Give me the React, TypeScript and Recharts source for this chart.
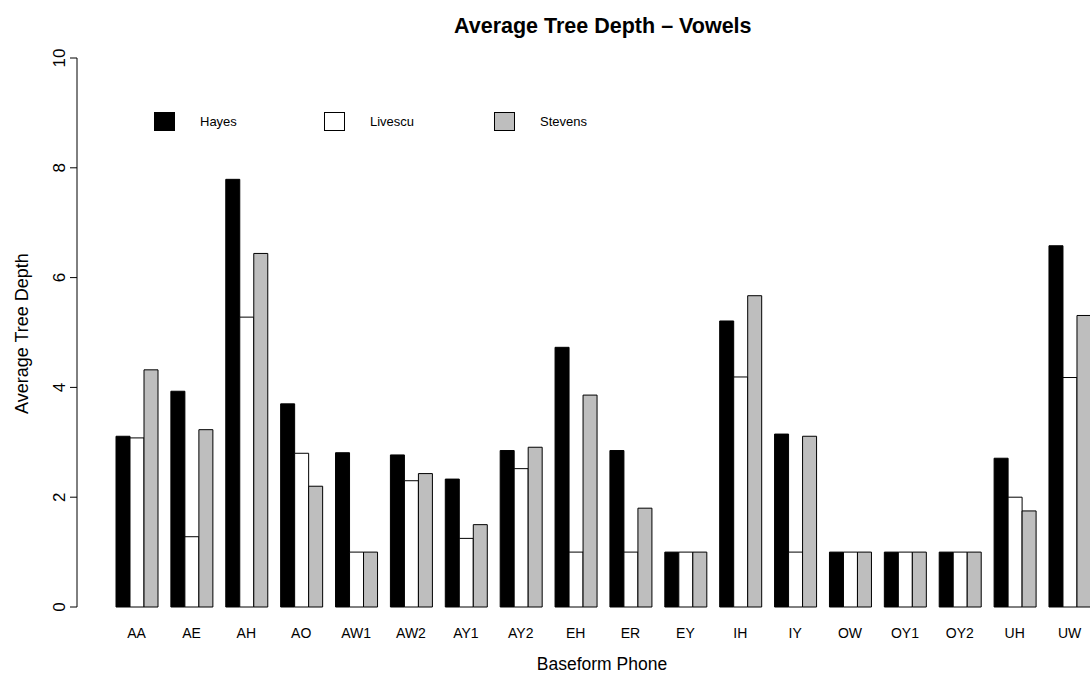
import { Bar, BarChart, Label, Legend, XAxis, YAxis } from "recharts";

const PHONES = ["AA", "AE", "AH", "AO", "AW1", "AW2", "AY1", "AY2", "EH", "ER", "EY", "IH", "IY", "OW", "OY1", "OY2", "UH", "UW"];
const HAYES = [3.11, 3.93, 7.79, 3.7, 2.81, 2.77, 2.33, 2.85, 4.73, 2.85, 1, 5.21, 3.15, 1, 1, 1, 2.71, 6.58];
const LIVESCU = [3.08, 1.28, 5.28, 2.8, 1, 2.3, 1.25, 2.52, 1, 1, 1, 4.19, 1, 1, 1, 1, 2.0, 4.18];
const STEVENS = [4.32, 3.23, 6.44, 2.2, 1, 2.43, 1.5, 2.91, 3.86, 1.8, 1, 5.67, 3.11, 1, 1, 1, 1.75, 5.31];
const Y_TICKS = [0, 2, 4, 6, 8, 10];

const SERIES = [
  { key: "hayes", name: "Hayes", fill: "#000000" },
  { key: "livescu", name: "Livescu", fill: "#ffffff" },
  { key: "stevens", name: "Stevens", fill: "#bebebe" },
];

const data = PHONES.map((phone, i) => ({
  phone,
  hayes: HAYES[i],
  livescu: LIVESCU[i],
  stevens: STEVENS[i],
}));

const FONT = '"Liberation Sans", Arial, Helvetica, sans-serif';

function XTick({ x, payload }: any) {
  return (
    <text x={x} y={637.5} textAnchor="middle" fontSize={14} fontFamily={FONT} fill="#000">
      {payload.value}
    </text>
  );
}

// R-style y labels: rotated, reading bottom to top
function YTick({ y, payload }: any) {
  return (
    <text
      x={65}
      y={y}
      transform={`rotate(-90, 65, ${y})`}
      textAnchor="middle"
      fontSize={17}
      fontFamily={FONT}
      fill="#000"
    >
      {payload.value}
    </text>
  );
}

function BoxLegend() {
  return (
    <svg width={440} height={24}>
      {SERIES.map((s, i) => (
        <g key={s.key} transform={`translate(${i * 170},0)`}>
          <rect x={0.5} y={0.5} width={20} height={18} fill={s.fill} stroke="#000" />
          <text x={46} y={14.3} fontSize={13} fontFamily={FONT} fill="#000">
            {s.name}
          </text>
        </g>
      ))}
    </svg>
  );
}

export default function App() {
  return (
    <div
      style={{
        position: "fixed",
        left: 0,
        top: 0,
        width: 1090,
        height: 673,
        overflow: "hidden",
        background: "#fff",
      }}
    >
      <BarChart
        width={1097}
        height={673}
        data={data}
        margin={{ top: 58, right: 0, bottom: 0, left: 0 }}
        barGap={0}
        barCategoryGap={6.86}
      >
        <XAxis
          dataKey="phone"
          padding={{ left: 32.15, right: 0 }}
          axisLine={false}
          tickLine={false}
          height={66}
          interval={0}
          tick={XTick}
        >
          <Label
            content={() => (
              <text x={602} y={670} textAnchor="middle" fontSize={17.5} fontFamily={FONT} fill="#000">
                Baseform Phone
              </text>
            )}
          />
        </XAxis>
        <YAxis
          width={77}
          domain={[0, 10]}
          ticks={Y_TICKS}
          interval={0}
          tickSize={7}
          tick={YTick}
          axisLine={{ stroke: "#000" }}
          tickLine={{ stroke: "#000" }}
        >
          <Label
            content={() => (
              <text
                x={28}
                y={333.5}
                transform="rotate(-90, 28, 333.5)"
                textAnchor="middle"
                fontSize={18}
                fontFamily={FONT}
                fill="#000"
              >
                Average Tree Depth
              </text>
            )}
          />
        </YAxis>
        <Legend
          layout="horizontal"
          verticalAlign="middle"
          align="center"
          content={BoxLegend}
          wrapperStyle={{ left: 154, top: 112, width: 440, height: 24 }}
        />
        {SERIES.map((s) => (
          <Bar
            key={s.key}
            dataKey={s.key}
            name={s.name}
            fill={s.fill}
            stroke="#000"
            strokeWidth={1}
            isAnimationActive={false}
          />
        ))}
      </BarChart>
      <svg
        width={1090}
        height={60}
        style={{ position: "absolute", left: 0, top: 0, pointerEvents: "none" }}
      >
        <text x={602.8} y={32.7} textAnchor="middle" fontSize={21.5} fontWeight="bold" fontFamily={FONT} fill="#000">
          Average Tree Depth – Vowels
        </text>
      </svg>
    </div>
  );
}
